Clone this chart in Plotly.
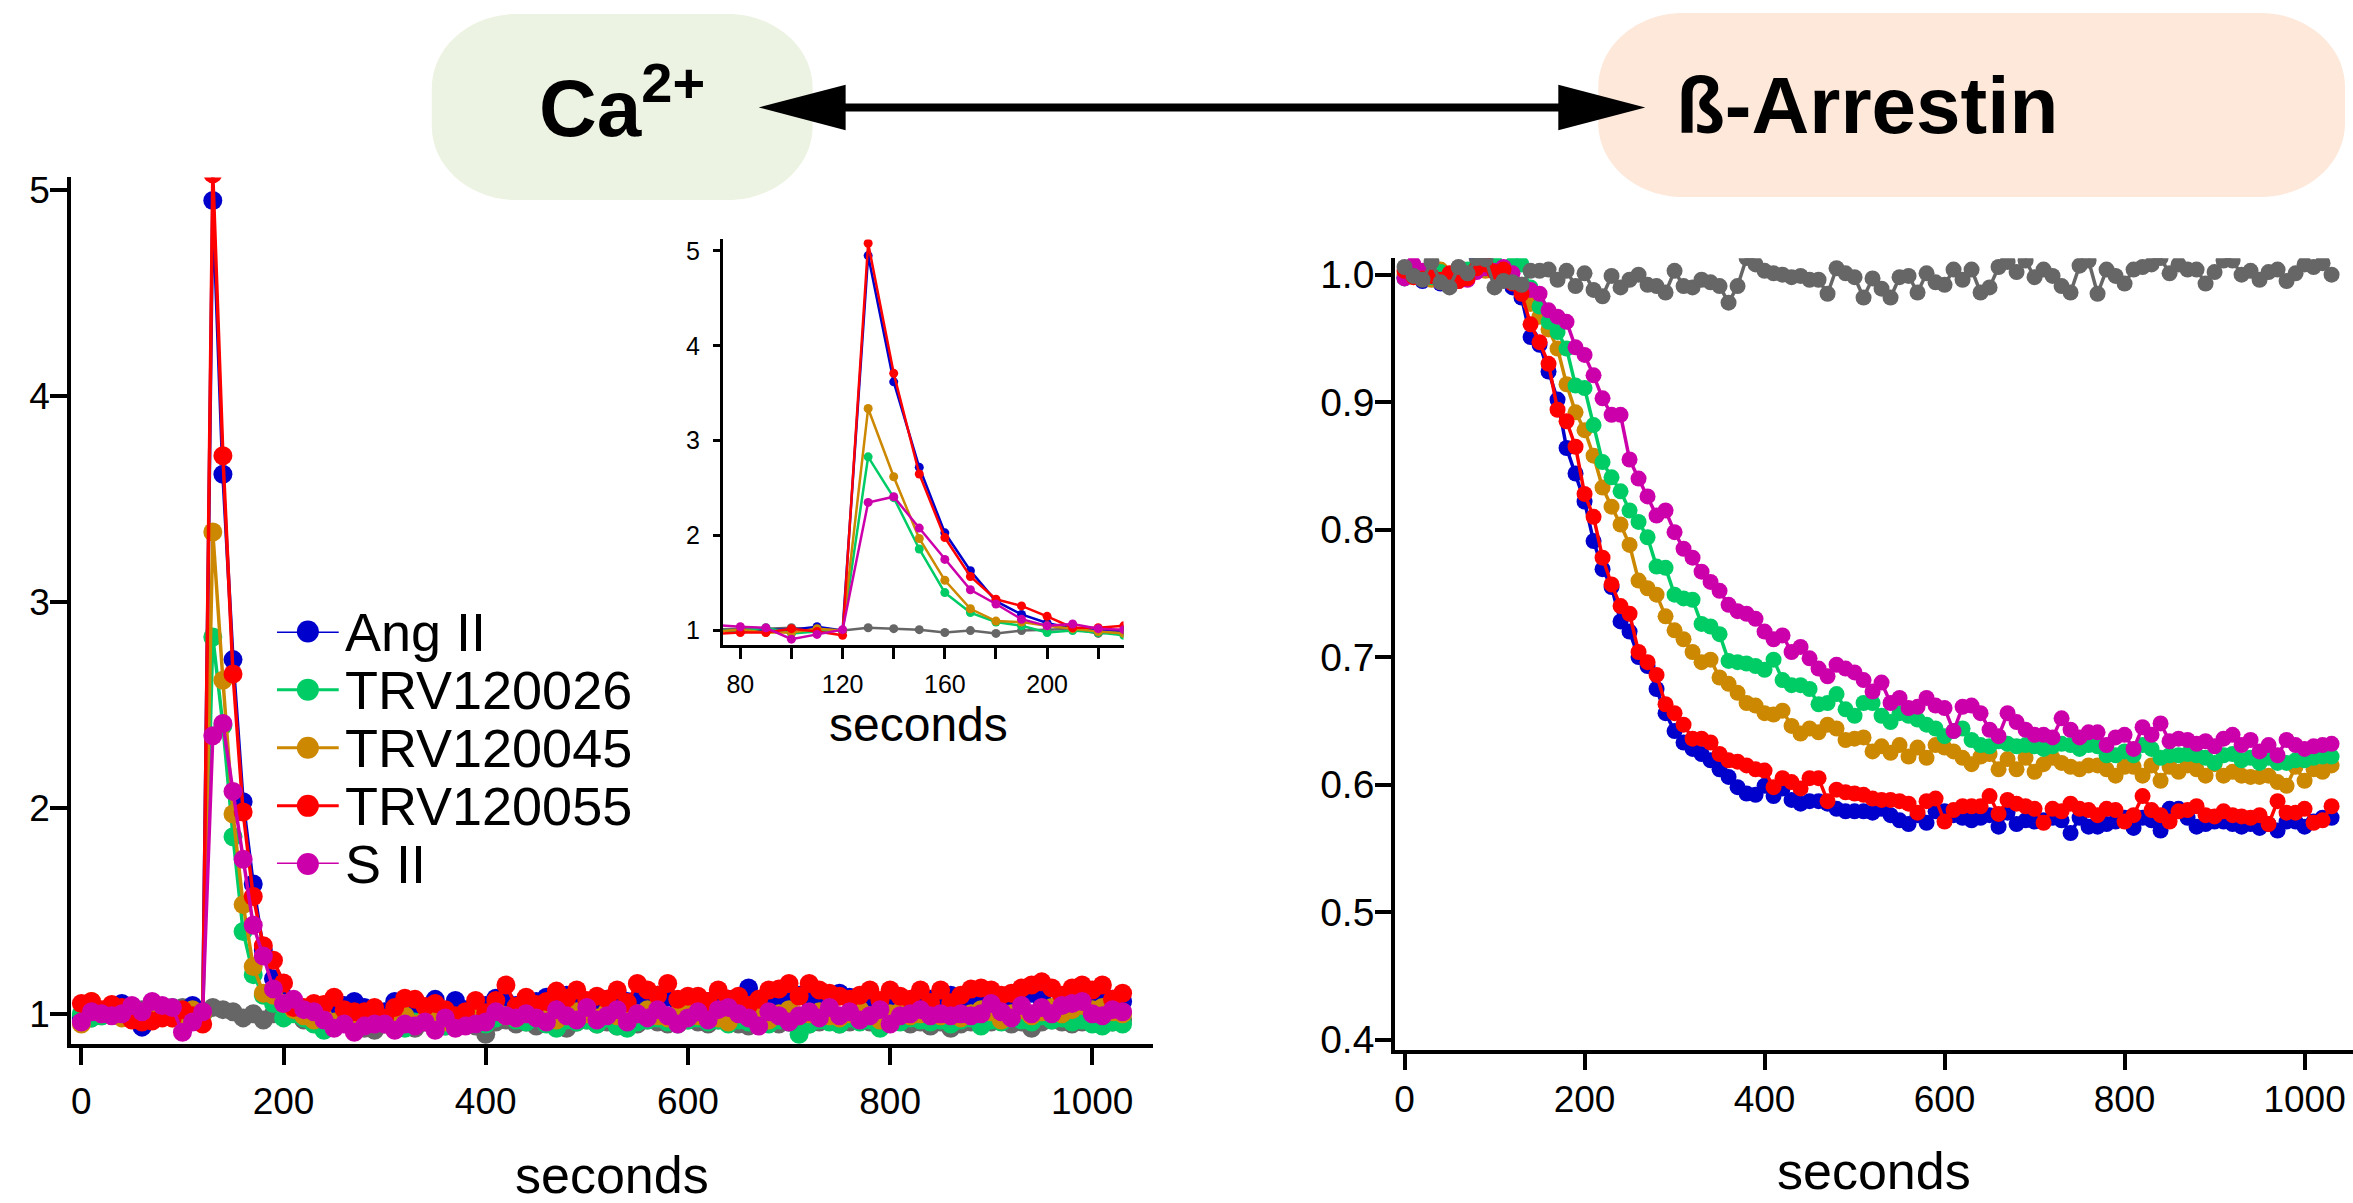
import plotly.graph_objects as go

W, H = 2353, 1203
FONT = "Liberation Sans, Arial, Helvetica, sans-serif"

# sampling times (s)
seconds = list(range(0, 1031, 10))

names = ["Ang II", "TRV120026", "TRV120045", "TRV120055", "S II"]
colors = {"Ang II": "#0000cc", "TRV120026": "#00cc66", "TRV120045": "#cc8800",
          "TRV120055": "#ff0000", "S II": "#cc00aa", "vehicle": "#666666"}

# ---- Ca2+ (fold over baseline) ----
ca_ang2 = [0.98, 1.02, 1.00, 1.02, 1.05, 1.01, 0.935, 1.00, 0.99, 1.01,
           1.01, 1.04, 1.00, 4.95, 3.62, 2.72, 2.03, 1.63, 1.31, 1.17,
           1.08, 1.02, 1.01, 1.00, 1.02, 1.03, 1.04, 1.06, 1.03, 1.02,
           1.01, 1.06, 1.04, 1.03, 1.02, 1.07, 1.00, 1.065, 1.02, 1.03,
           1.04, 1.075, 1.06, 1.04, 1.03, 1.06, 1.08, 1.05, 1.09, 1.06,
           1.04, 1.05, 1.07, 1.10, 1.06, 1.07, 1.05, 1.09, 1.08, 1.06,
           1.05, 1.07, 1.06, 1.08, 1.07, 1.06, 1.125, 1.05, 1.08, 1.07,
           1.06, 1.09, 1.07, 1.05, 1.06, 1.10, 1.08, 1.06, 1.07, 1.05,
           1.08, 1.07, 1.06, 1.04, 1.07, 1.06, 1.09, 1.08, 1.07, 1.06,
           1.07, 1.08, 1.06, 1.09, 1.10, 1.07, 1.02, 1.08, 1.05, 1.06,
           1.08, 1.07, 1.07, 1.06]
ca_trv26 = [1.00, 0.98, 0.99, 1.00, 0.99, 1.00, 0.98, 1.00, 1.00, 1.03,
            0.97, 0.99, 1.00, 2.83, 2.40, 1.86, 1.40, 1.19, 1.09, 1.05,
            0.98, 1.00, 0.98, 0.95, 0.92, 0.95, 0.96, 0.94, 0.95, 0.96,
            0.97, 0.95, 0.93, 0.96, 0.97, 0.95, 0.94, 0.96, 0.97, 0.95,
            0.95, 0.98, 0.99, 0.97, 0.96, 0.98, 0.95, 0.93, 0.97, 0.96,
            0.97, 0.95, 0.98, 0.94, 0.93, 0.96, 0.97, 0.98, 0.96, 0.95,
            0.97, 0.98, 0.96, 0.97, 0.95, 0.97, 0.96, 0.98, 0.95, 0.97,
            0.96, 0.90, 0.95, 0.97, 0.96, 0.95, 0.98, 0.96, 0.97, 0.93,
            0.97, 0.96, 0.98, 0.97, 0.96, 0.97, 0.95, 0.97, 0.98, 0.94,
            0.97, 0.96, 0.98, 0.97, 0.96, 0.99, 0.97, 0.98, 0.96, 0.97,
            0.95, 0.94, 0.96, 0.95]
ca_trv45 = [0.95, 1.06, 1.00, 1.00, 0.98, 0.98, 1.00, 0.99, 1.01, 0.98,
            0.98, 1.02, 1.00, 3.34, 2.62, 1.97, 1.53, 1.23, 1.10, 1.09,
            1.05, 1.02, 0.99, 0.97, 0.98, 0.96, 0.99, 0.97, 0.96, 0.98,
            0.97, 0.96, 0.99, 0.95, 0.97, 0.98, 0.96, 0.97, 0.95, 0.98,
            1.00, 1.02, 0.99, 0.98, 1.01, 0.99, 1.00, 0.97, 0.99, 1.01,
            1.00, 0.98, 1.01, 0.99, 0.97, 1.00, 1.02, 0.99, 0.98, 1.00,
            1.01, 0.99, 1.00, 0.98, 0.96, 1.00, 0.99, 1.01, 0.97, 1.00,
            1.02, 0.99, 1.00, 1.01, 0.99, 0.98, 1.00, 1.02, 0.99, 0.97,
            1.00, 1.01, 0.99, 1.00, 1.02, 0.99, 1.01, 0.98, 1.00, 1.02,
            1.01, 0.97, 1.00, 1.02, 0.99, 1.01, 1.03, 1.00, 1.02, 1.04,
            1.02, 1.03, 1.01, 1.00]
ca_trv55 = [1.05, 1.06, 1.02, 1.045, 1.03, 0.97, 0.96, 0.965, 0.98, 0.98,
            1.02, 0.99, 0.95, 5.08, 3.71, 2.65, 1.98, 1.57, 1.33, 1.26,
            1.15, 1.03, 1.03, 1.05, 1.045, 1.08, 1.02, 1.01, 1.01, 1.03,
            0.98, 1.03, 1.075, 1.07, 1.035, 1.05, 1.02, 0.99, 1.01, 1.065,
            1.005, 1.065, 1.14, 1.035, 1.08, 1.045, 1.06, 1.11, 1.075, 1.115,
            1.065, 1.085, 1.07, 1.115, 1.055, 1.147, 1.115, 1.09, 1.147, 1.07,
            1.085, 1.085, 1.06, 1.115, 1.07, 1.085, 1.04, 1.07, 1.115, 1.12,
            1.147, 1.085, 1.147, 1.115, 1.10, 1.085, 1.07, 1.09, 1.115, 1.065,
            1.115, 1.085, 1.07, 1.115, 1.055, 1.115, 1.053, 1.09, 1.12, 1.125,
            1.115, 1.09, 1.10, 1.125, 1.14, 1.155, 1.125, 1.09, 1.125, 1.14,
            1.115, 1.14, 1.07, 1.10]
ca_s2 = [0.96, 1.01, 1.00, 0.99, 1.00, 1.04, 1.01, 1.06, 1.04, 1.03,
         0.91, 0.96, 1.01, 2.35, 2.41, 2.08, 1.75, 1.43, 1.28, 1.12,
         1.05, 1.07, 1.02, 1.01, 0.97, 0.93, 0.95, 0.91, 0.94, 0.95,
         0.95, 0.92, 0.95, 0.94, 0.96, 0.92, 0.98, 0.93, 0.94, 0.95,
         0.96, 1.01, 0.99, 0.98, 1.00, 0.98, 0.96, 1.02, 0.99, 0.97,
         1.03, 0.97, 0.99, 1.02, 0.96, 1.00, 0.98, 1.02, 0.99, 0.95,
         0.98, 1.01, 0.97, 1.02, 1.03, 1.00, 0.98, 0.94, 1.01, 0.99,
         0.96, 0.99, 1.01, 0.98, 1.03, 0.99, 1.01, 0.97, 0.99, 1.02,
         0.95, 0.99, 1.00, 1.02, 0.99, 1.00, 0.99, 1.00, 0.99, 1.00,
         1.05, 1.01, 0.98, 1.04, 1.00, 1.03, 1.00, 1.04, 1.05, 1.06,
         1.00, 0.99, 1.02, 1.01]
ca_vehicle = [0.99, 0.98, 0.99, 1.00, 0.99, 1.00, 1.02, 1.01, 1.02, 1.02,
              1.03, 1.01, 1.00, 1.03, 1.02, 1.01, 0.98, 1.00, 0.97, 1.00,
              1.01, 1.02, 0.97, 0.99, 0.95, 0.96, 0.97, 0.94, 0.93, 0.92,
              0.95, 0.96, 0.94, 0.93, 0.96, 0.95, 0.94, 0.95, 0.96, 0.94,
              0.90, 0.96, 0.97, 0.95, 0.96, 0.94, 0.97, 0.95, 0.93, 0.96,
              0.97, 0.95, 0.96, 0.94, 0.96, 0.95, 0.97, 0.96, 0.95, 0.96,
              0.97, 0.96, 0.95, 0.97, 0.96, 0.95, 0.94, 0.96, 0.97, 0.95,
              0.96, 0.97, 0.95, 0.96, 0.97, 0.95, 0.96, 0.97, 0.96, 0.95,
              0.96, 0.97, 0.95, 0.96, 0.94, 0.96, 0.93, 0.95, 0.96, 0.97,
              0.96, 0.97, 0.95, 0.96, 0.93, 0.96, 0.97, 0.96, 0.95, 0.96,
              0.97, 0.95, 0.96, 0.97]

# ---- beta-arrestin (normalised signal) ----
arr_ang2 = [0.998, 1.002, 0.995, 1.001, 0.993, 0.994, 0.996, 1.003, 1.015, 1.010,
            1.005, 0.999, 0.990, 0.982, 0.951, 0.945, 0.924, 0.902, 0.864, 0.844,
            0.822, 0.791, 0.769, 0.755, 0.728, 0.720, 0.700, 0.693, 0.675, 0.656,
            0.642, 0.633, 0.628, 0.624, 0.619, 0.612, 0.606, 0.598, 0.593, 0.592,
            0.599, 0.591, 0.597, 0.588, 0.585, 0.587, 0.587, 0.585, 0.581, 0.579,
            0.579, 0.579, 0.578, 0.581, 0.576, 0.572, 0.569, 0.576, 0.570, 0.579,
            0.579, 0.576, 0.574, 0.572, 0.574, 0.576, 0.567, 0.578, 0.569, 0.572,
            0.571, 0.572, 0.574, 0.572, 0.562, 0.574, 0.567, 0.567, 0.569, 0.571,
            0.574, 0.566, 0.574, 0.572, 0.564, 0.581, 0.581, 0.574, 0.567, 0.569,
            0.571, 0.571, 0.569, 0.567, 0.569, 0.566, 0.569, 0.564, 0.571, 0.571,
            0.567, 0.571, 0.574, 0.574]
arr_trv26 = [0.997, 1.003, 1.001, 0.998, 1.002, 0.996, 1.000, 1.004, 1.007, 1.005,
             1.010, 1.004, 1.008, 1.008, 0.990, 0.975, 0.963, 0.955, 0.942, 0.913,
             0.911, 0.882, 0.853, 0.841, 0.830, 0.815, 0.806, 0.794, 0.771, 0.770,
             0.749, 0.746, 0.745, 0.726, 0.724, 0.718, 0.697, 0.696, 0.695, 0.693,
             0.690, 0.698, 0.682, 0.678, 0.678, 0.675, 0.663, 0.664, 0.671, 0.659,
             0.654, 0.664, 0.664, 0.654, 0.649, 0.656, 0.654, 0.651, 0.647, 0.644,
             0.638, 0.642, 0.644, 0.635, 0.631, 0.630, 0.634, 0.632, 0.630, 0.631,
             0.630, 0.628, 0.630, 0.632, 0.631, 0.628, 0.631, 0.630, 0.623, 0.623,
             0.626, 0.623, 0.631, 0.628, 0.621, 0.623, 0.623, 0.624, 0.623, 0.621,
             0.617, 0.623, 0.624, 0.619, 0.621, 0.617, 0.621, 0.617, 0.617, 0.619,
             0.619, 0.621, 0.622, 0.622]
arr_trv45 = [1.000, 0.998, 1.002, 0.996, 1.004, 0.999, 0.997, 1.001, 1.006, 1.003,
             1.005, 1.003, 0.995, 0.988, 0.977, 0.967, 0.957, 0.942, 0.914, 0.892,
             0.878, 0.858, 0.833, 0.818, 0.804, 0.788, 0.760, 0.754, 0.749, 0.732,
             0.721, 0.714, 0.704, 0.696, 0.698, 0.684, 0.679, 0.672, 0.664, 0.662,
             0.656, 0.655, 0.658, 0.646, 0.640, 0.644, 0.641, 0.647, 0.644, 0.635,
             0.636, 0.637, 0.626, 0.630, 0.625, 0.631, 0.622, 0.629, 0.621, 0.631,
             0.629, 0.626, 0.621, 0.616, 0.622, 0.624, 0.612, 0.620, 0.612, 0.621,
             0.610, 0.616, 0.621, 0.617, 0.614, 0.612, 0.615, 0.615, 0.612, 0.607,
             0.614, 0.614, 0.607, 0.615, 0.603, 0.614, 0.610, 0.615, 0.612, 0.607,
             0.616, 0.607, 0.610, 0.607, 0.606, 0.606, 0.607, 0.602, 0.599, 0.614,
             0.603, 0.612, 0.610, 0.615]
arr_trv55 = [1.003, 0.998, 0.997, 0.999, 0.996, 1.001, 0.995, 0.997, 1.005, 1.008,
             1.002, 1.004, 0.993, 0.985, 0.961, 0.947, 0.930, 0.894, 0.885, 0.865,
             0.828, 0.810, 0.778, 0.757, 0.740, 0.734, 0.704, 0.696, 0.686, 0.663,
             0.656, 0.647, 0.636, 0.636, 0.633, 0.624, 0.619, 0.618, 0.615, 0.612,
             0.611, 0.598, 0.605, 0.602, 0.597, 0.605, 0.605, 0.587, 0.596, 0.594,
             0.593, 0.592, 0.589, 0.588, 0.588, 0.587, 0.585, 0.578, 0.587, 0.589,
             0.571, 0.580, 0.583, 0.583, 0.583, 0.591, 0.577, 0.588, 0.585, 0.583,
             0.581, 0.570, 0.581, 0.579, 0.585, 0.581, 0.580, 0.576, 0.581, 0.580,
             0.571, 0.576, 0.591, 0.580, 0.576, 0.571, 0.579, 0.580, 0.583, 0.576,
             0.575, 0.579, 0.576, 0.575, 0.574, 0.576, 0.569, 0.587, 0.578, 0.578,
             0.581, 0.570, 0.572, 0.583]
arr_s2 = [0.997, 1.008, 1.003, 0.999, 0.994, 1.000, 0.995, 0.996, 1.002, 1.005,
          1.003, 1.006, 1.001, 0.992, 0.988, 0.985, 0.972, 0.967, 0.963, 0.943,
          0.937, 0.921, 0.903, 0.890, 0.890, 0.855, 0.840, 0.826, 0.811, 0.815,
          0.798, 0.785, 0.778, 0.767, 0.759, 0.752, 0.741, 0.736, 0.734, 0.730,
          0.720, 0.714, 0.717, 0.704, 0.708, 0.699, 0.691, 0.685, 0.694, 0.691,
          0.688, 0.682, 0.673, 0.680, 0.664, 0.668, 0.660, 0.661, 0.668, 0.662,
          0.660, 0.642, 0.661, 0.662, 0.656, 0.643, 0.638, 0.656, 0.649, 0.643,
          0.639, 0.639, 0.637, 0.652, 0.643, 0.637, 0.641, 0.641, 0.631, 0.637,
          0.639, 0.628, 0.645, 0.639, 0.648, 0.634, 0.636, 0.635, 0.632, 0.634,
          0.630, 0.636, 0.639, 0.631, 0.635, 0.626, 0.631, 0.623, 0.635, 0.631,
          0.628, 0.630, 0.631, 0.632]
arr_vehicle = [1.006, 0.999, 0.996, 1.010, 0.994, 0.990, 1.006, 1.001, 1.013, 1.012,
               0.990, 0.995, 0.994, 0.992, 1.003, 1.003, 1.004, 0.996, 1.003, 0.991,
               1.001, 0.988, 0.983, 0.999, 0.990, 0.996, 1.000, 0.992, 0.991, 0.986,
               1.003, 0.991, 0.990, 0.996, 0.994, 0.991, 0.978, 0.991, 1.013, 1.008,
               1.003, 1.001, 1.000, 0.998, 0.999, 0.996, 0.996, 0.985, 1.005, 1.001,
               0.998, 0.982, 0.997, 0.989, 0.982, 0.998, 0.999, 0.986, 1.001, 0.994,
               0.992, 1.004, 0.996, 1.004, 0.986, 0.990, 1.006, 1.010, 1.002, 1.011,
               0.998, 1.004, 0.999, 0.991, 0.986, 1.007, 1.011, 0.985, 1.004, 0.999,
               0.993, 1.004, 1.006, 1.008, 1.013, 1.001, 1.008, 1.004, 1.004, 0.993,
               1.002, 1.011, 1.011, 1.000, 1.003, 0.996, 1.002, 1.004, 0.995, 1.001,
               1.008, 1.006, 1.009, 1.000]


def px_x(p):
    return p / W


def px_y(p):
    return 1 - p / H


fig = go.Figure()

# left panel + inset share the Ca2+ data
ca_order = [("vehicle", ca_vehicle), ("Ang II", ca_ang2), ("TRV120026", ca_trv26),
            ("TRV120045", ca_trv45), ("TRV120055", ca_trv55), ("S II", ca_s2)]
for name, vals in ca_order:
    fig.add_trace(go.Scatter(x=seconds, y=vals, mode="lines+markers", name=name,
                             line=dict(color=colors[name], width=3.5),
                             marker=dict(color=colors[name], size=19),
                             xaxis="x", yaxis="y", showlegend=False))
for name, vals in ca_order:
    fig.add_trace(go.Scatter(x=seconds, y=vals, mode="lines+markers", name=name,
                             line=dict(color=colors[name], width=2.5),
                             marker=dict(color=colors[name], size=9),
                             xaxis="x2", yaxis="y2", showlegend=False))

arr_order = [("Ang II", arr_ang2), ("TRV120045", arr_trv45), ("TRV120026", arr_trv26),
             ("S II", arr_s2), ("TRV120055", arr_trv55), ("vehicle", arr_vehicle)]
for name, vals in arr_order:
    fig.add_trace(go.Scatter(x=seconds, y=vals, mode="lines+markers", name=name,
                             line=dict(color=colors[name], width=3.5),
                             marker=dict(color=colors[name], size=16),
                             xaxis="x3", yaxis="y3", showlegend=False))

# hand-made legend, one row per agonist
for i, name in enumerate(names):
    fig.add_trace(go.Scatter(x=[0, 0.5, 1], y=[i, i, i], mode="lines",
                             line=dict(color=colors[name], width=3),
                             xaxis="x4", yaxis="y4", showlegend=False,
                             cliponaxis=False, hoverinfo="skip"))
    fig.add_trace(go.Scatter(x=[0.5], y=[i], mode="markers",
                             marker=dict(color=colors[name], size=22),
                             xaxis="x4", yaxis="y4", showlegend=False,
                             cliponaxis=False, hoverinfo="skip"))
    fig.add_annotation(x=1, y=i, xref="x4", yref="y4", text=name, showarrow=False,
                       xanchor="left", yanchor="middle", xshift=4,
                       font=dict(size=54, color="black"))

axis_common = dict(showgrid=False, zeroline=False, showline=True, linecolor="black",
                   ticks="outside", tickcolor="black", color="black")

fig.update_layout(
    width=W, height=H,
    margin=dict(l=0, r=0, t=0, b=0),
    paper_bgcolor="white", plot_bgcolor="rgba(0,0,0,0)",
    font=dict(family=FONT, color="black"),
    xaxis=dict(axis_common, domain=[px_x(70), px_x(1152)], range=[-10.3, 1059.6],
               tickvals=[0, 200, 400, 600, 800, 1000], ticklen=17, tickwidth=3.5,
               linewidth=3.5, tickfont=dict(size=37), ticklabelstandoff=5, anchor="y"),
    yaxis=dict(axis_common, domain=[px_y(1053), px_y(173)], range=[0.852, 5.062],
               tickvals=[1, 2, 3, 4, 5], ticklen=17, tickwidth=3.5,
               linewidth=3.5, tickfont=dict(size=37), ticklabelstandoff=-7, anchor="x"),
    xaxis2=dict(axis_common, domain=[px_x(722), px_x(1123)], range=[73.1, 229.9],
                tickvals=[80, 120, 160, 200], ticklen=11, tickwidth=2.5,
                minor=dict(tickvals=[100, 140, 180, 220], ticklen=11, tickwidth=2.5,
                           ticks="outside", tickcolor="black"),
                linewidth=2.5, tickfont=dict(size=25), ticklabelstandoff=4, anchor="y2"),
    yaxis2=dict(axis_common, domain=[px_y(648), px_y(236)], range=[0.845, 5.12],
                tickvals=[1, 2, 3, 4, 5], ticklen=7, tickwidth=2.5,
                linewidth=2.5, tickfont=dict(size=25), ticklabelstandoff=8, anchor="x2"),
    xaxis3=dict(axis_common, domain=[px_x(1394.5), 1.0], range=[-10.7, 1053.8],
                tickvals=[0, 200, 400, 600, 800, 1000], ticklen=16, tickwidth=3.5,
                linewidth=3.5, tickfont=dict(size=37), ticklabelstandoff=-2, anchor="y3"),
    yaxis3=dict(axis_common, domain=[px_y(1059), px_y(255)], range=[0.3917, 1.0129],
                tickvals=[0.4, 0.5, 0.6, 0.7, 0.8, 0.9, 1.0], tickformat=".1f",
                ticklen=16, tickwidth=3.5, linewidth=3.5, tickfont=dict(size=39),
                ticklabelstandoff=-7, anchor="x3"),
    xaxis4=dict(domain=[px_x(276), px_x(338)], range=[0, 1], visible=False,
                fixedrange=True, anchor="y4"),
    yaxis4=dict(domain=[px_y(870), px_y(634)], range=[4, 0], visible=False,
                fixedrange=True, anchor="x4"),
)

# axis titles
for cx, cy, size in [(611, 1186, 52), (1874, 1182, 52), (918, 728, 48)]:
    fig.add_annotation(x=px_x(cx), y=px_y(cy), xref="paper", yref="paper",
                       text="seconds", showarrow=False, xanchor="center",
                       yanchor="middle", font=dict(size=size, color="black"))


def pill(x0, y0, x1, y1, rx, ry):
    cx, cy = rx * 0.5523, ry * 0.5523

    def P(x, y):
        return f"{px_x(x):.5f},{px_y(y):.5f}"
    return (f"M {P(x0 + rx, y0)} L {P(x1 - rx, y0)} "
            f"C {P(x1 - rx + cx, y0)} {P(x1, y0 + ry - cy)} {P(x1, y0 + ry)} "
            f"L {P(x1, y1 - ry)} "
            f"C {P(x1, y1 - ry + cy)} {P(x1 - rx + cx, y1)} {P(x1 - rx, y1)} "
            f"L {P(x0 + rx, y1)} "
            f"C {P(x0 + rx - cx, y1)} {P(x0, y1 - ry + cy)} {P(x0, y1 - ry)} "
            f"L {P(x0, y0 + ry)} "
            f"C {P(x0, y0 + ry - cy)} {P(x0 + rx - cx, y0)} {P(x0 + rx, y0)} Z")


def tri(tip, base, yc, half):
    return (f"M {px_x(tip):.5f},{px_y(yc):.5f} L {px_x(base):.5f},{px_y(yc - half):.5f} "
            f"L {px_x(base):.5f},{px_y(yc + half):.5f} Z")


fig.add_shape(type="path", path=pill(431, 7, 812, 196, 85, 75), xref="paper", yref="paper",
              fillcolor="#edf3e2", line=dict(width=0), layer="below")
fig.add_shape(type="path", path=pill(1598, 6, 2345, 193, 85, 75), xref="paper", yref="paper",
              fillcolor="#fde8da", line=dict(width=0), layer="below")
fig.add_shape(type="line", x0=px_x(840), x1=px_x(1562), y0=px_y(102), y1=px_y(102),
              xref="paper", yref="paper", line=dict(color="black", width=8))
fig.add_shape(type="path", path=tri(758, 845, 102, 23), xref="paper", yref="paper",
              fillcolor="black", line=dict(width=0))
fig.add_shape(type="path", path=tri(1645, 1558, 102, 23), xref="paper", yref="paper",
              fillcolor="black", line=dict(width=0))

fig.add_annotation(x=px_x(621), y=px_y(96), xref="paper", yref="paper",
                   text="<b>Ca<sup>2+</sup></b>", showarrow=False,
                   xanchor="center", yanchor="middle",
                   font=dict(size=80, color="black"))
fig.add_annotation(x=px_x(1867), y=px_y(100), xref="paper", yref="paper",
                   text="<b>ß-Arrestin</b>", showarrow=False,
                   xanchor="center", yanchor="middle",
                   font=dict(size=80, color="black"))

fig.write_html("out.html", config={"displayModeBar": False},
               post_script="document.body.style.margin = '0';")
